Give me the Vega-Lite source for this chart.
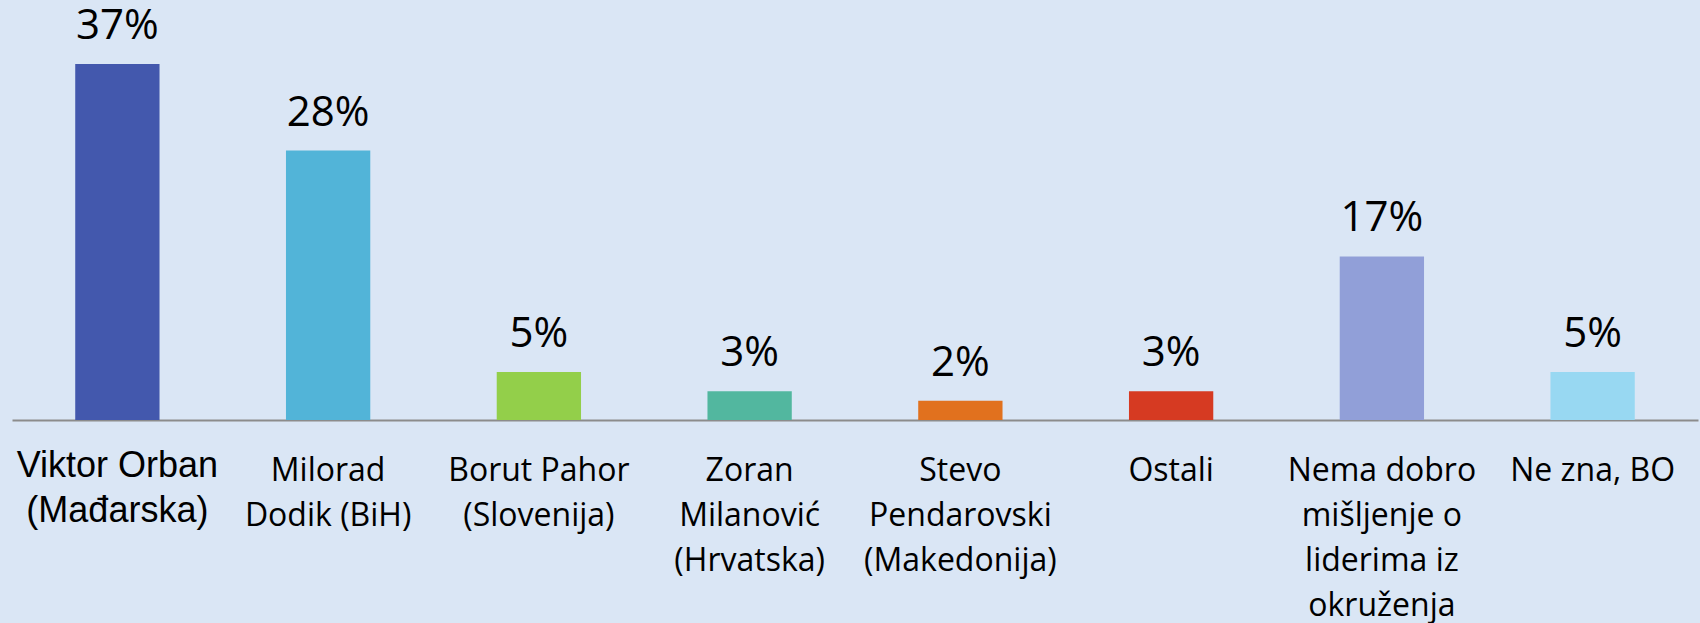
{
  "$schema": "https://vega.github.io/schema/vega-lite/v6.json",
  "autosize": {"type": "none"},
  "width": 1686,
  "height": 420,
  "padding": {"left": 12, "top": 0, "right": 2, "bottom": 203},
  "background": "#DAE6F5",
  "config": {"view": {"stroke": null}},
  "data": {
    "values": [
      {"name": "Viktor Orban|(Mađarska)", "value": 37, "label": "37%"},
      {"name": "Milorad|Dodik (BiH)", "value": 28, "label": "28%"},
      {"name": "Borut Pahor|(Slovenija)", "value": 5, "label": "5%"},
      {"name": "Zoran|Milanović|(Hrvatska)", "value": 3, "label": "3%"},
      {"name": "Stevo|Pendarovski|(Makedonija)", "value": 2, "label": "2%"},
      {"name": "Ostali", "value": 3, "label": "3%"},
      {"name": "Nema dobro|mišljenje o|liderima iz|okruženja", "value": 17, "label": "17%"},
      {"name": "Ne zna, BO", "value": 5, "label": "5%"}
    ]
  },
  "encoding": {
    "x": {
      "field": "name",
      "type": "nominal",
      "sort": null,
      "scale": {"paddingInner": 0.6, "paddingOuter": 0.3},
      "axis": {
        "title": null,
        "ticks": false,
        "domain": true,
        "domainColor": "#8c8c8c",
        "domainWidth": 2,
        "labelAngle": 0,
        "labelAlign": "center",
        "labelBaseline": "top",
        "labelFont": {"condition": {"test": "datum.value == 'Viktor Orban|(Mađarska)'", "value": "Liberation Sans"}, "value": "Open Sans"},
        "labelFontSize": {"condition": {"test": "datum.value == 'Viktor Orban|(Mađarska)'", "value": 36}, "value": 32},
        "labelFontWeight": "normal",
        "labelPadding": {"condition": {"test": "datum.value == 'Viktor Orban|(Mađarska)'", "value": 28}, "value": 35},
        "labelLineHeight": {"condition": {"test": "datum.value == 'Viktor Orban|(Mađarska)'", "value": 40}, "value": 45},
        "labelColor": "#000000",
        "labelLimit": 0,
        "labelOverlap": false,
        "labelExpr": "split(datum.value, '|')"
      }
    },
    "y": {
      "field": "value",
      "type": "quantitative",
      "scale": {"domain": [0, 43.65], "nice": false, "zero": true},
      "axis": null
    }
  },
  "layer": [
    {
      "mark": {"type": "bar"},
      "encoding": {
        "color": {
          "field": "name",
          "type": "nominal",
          "sort": null,
          "scale": {"range": ["#4358AD", "#52B4D8", "#93CF4A", "#52B79F", "#E1711E", "#D63A22", "#919FD8", "#98D8F2"]},
          "legend": null
        }
      }
    },
    {
      "mark": {"type": "text", "font": "Open Sans", "fontSize": 42, "baseline": "alphabetic", "dy": -25, "color": "#000000"},
      "encoding": {"text": {"field": "label"}}
    }
  ]
}
